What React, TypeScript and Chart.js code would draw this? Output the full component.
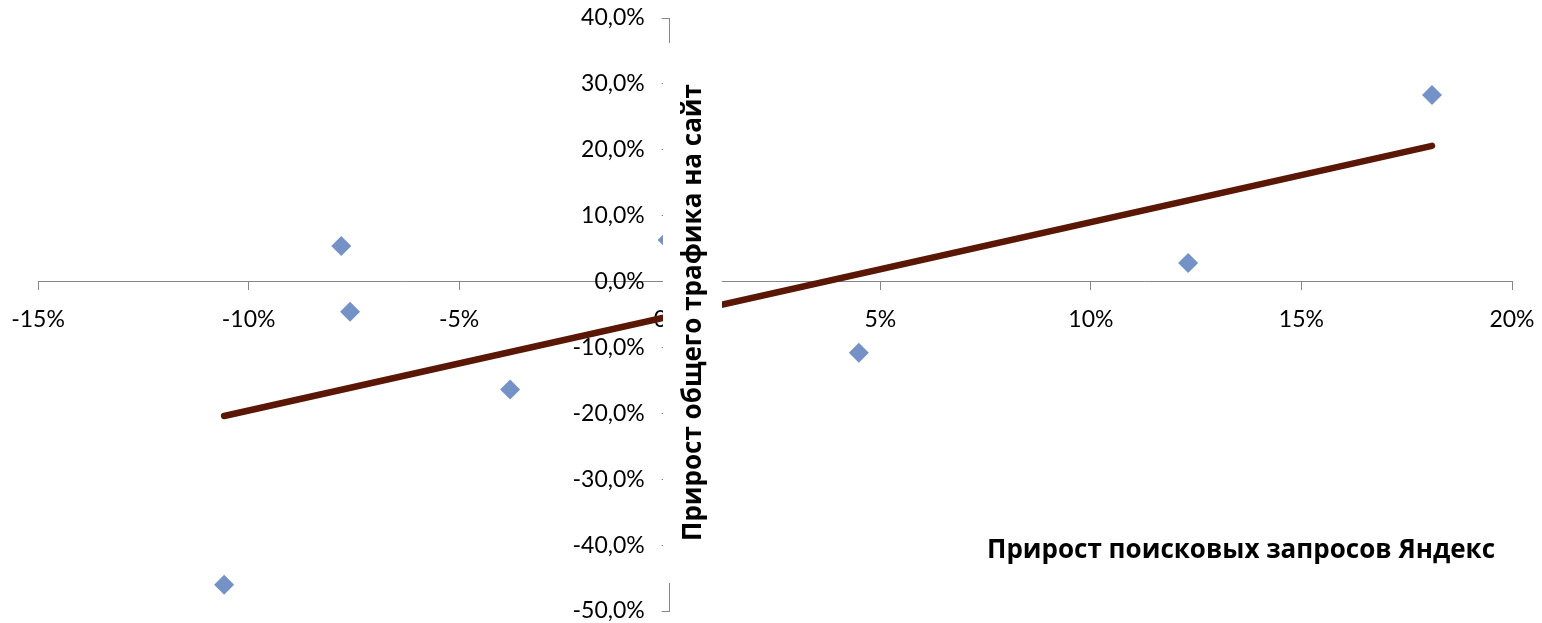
import React, { useEffect, useRef } from 'react';
import { Chart, registerables } from 'chart.js';

Chart.register(...registerables);

// Growth of Yandex search queries (%), x
const xValues = [-10.58, -7.8, -7.59, -3.79, -0.05, 4.49, 12.31, 18.1];
// Growth of total site traffic (%), y
const yValues = [-46.0, 5.4, -4.6, -16.4, 6.3, -10.8, 2.8, 28.3];
// Linear trend line end points
const trendX = [-10.58, 18.1];
const trendY = [-20.4, 20.6];

const xTickValues = [-15, -10, -5, 0, 5, 10, 15, 20];
const yTickValues = [-50, -40, -30, -20, -10, 0, 10, 20, 30, 40];

const xTitle = 'Прирост поисковых запросов Яндекс';
const yTitle = 'Прирост общего трафика на сайт';

const W = 1542;
const H = 623;

const titleFont = 'bold 26px "Open Sans", "Noto Sans", sans-serif';

// Moves the left y axis so that it crosses the x axis at x = 0
const crossPlugin = {
  id: 'crossAxes',
  afterLayout(chart: any) {
    const ys = chart.scales.y;
    const px = chart.scales.x.getPixelForValue(0);
    ys.left = 0;
    ys.right = px;
    ys._gridLineItems = null;
    ys._labelItems = null;
  },
};

const titlePlugin = {
  id: 'axisTitles',
  afterDraw(chart: any) {
    const ctx = chart.ctx as CanvasRenderingContext2D;
    ctx.save();
    // Y title with white box over the axis
    ctx.fillStyle = '#ffffff';
    ctx.fillRect(663, 43, 59, 540);
    ctx.translate(694, 312.5);
    ctx.rotate(-Math.PI / 2);
    ctx.fillStyle = '#000000';
    ctx.font = titleFont;
    ctx.textAlign = 'center';
    ctx.textBaseline = 'middle';
    ctx.fillText(yTitle, 0, 0);
    ctx.restore();

    ctx.save();
    ctx.fillStyle = '#000000';
    ctx.font = titleFont;
    ctx.textAlign = 'center';
    ctx.textBaseline = 'alphabetic';
    ctx.fillText(xTitle, 1241, 558);
    ctx.restore();
  },
};

export default function App() {
  const ref = useRef<HTMLCanvasElement | null>(null);

  useEffect(() => {
    if (!ref.current) return;
    const points = xValues.map((x, i) => ({ x, y: yValues[i] }));
    const trend = trendX.map((x, i) => ({ x, y: trendY[i] }));
    const tickFont = { family: 'Lato, "Open Sans", sans-serif', size: 23, lineHeight: 1 };
    const zeroPad = (s: any) => {
      s.paddingTop = 0;
      s.paddingBottom = 0;
      s.paddingLeft = 0;
      s.paddingRight = 0;
    };
    const chart = new Chart(ref.current, {
      type: 'scatter',
      data: {
        datasets: [
          {
            label: 'points',
            data: points,
            pointStyle: 'rectRot',
            pointRadius: 10,
            pointHoverRadius: 10,
            backgroundColor: '#7492C6',
            borderColor: '#7492C6',
            borderWidth: 0,
          },
          {
            label: 'trend',
            data: trend,
            showLine: true,
            borderColor: '#5B1706',
            borderWidth: 6.5,
            borderCapStyle: 'round',
            pointRadius: 0,
            pointHoverRadius: 0,
          } as any,
        ],
      },
      options: {
        animation: false,
        responsive: false,
        devicePixelRatio: 1,
        layout: { padding: { left: 38, right: 30, top: 18, bottom: 12 } },
        plugins: {
          legend: { display: false },
          tooltip: { enabled: false },
          title: { display: false },
        },
        scales: {
          x: {
            type: 'linear',
            min: -15,
            max: 20,
            position: { y: 0 } as any,
            afterBuildTicks: (s: any) => {
              s.ticks = xTickValues.map((v) => ({ value: v }));
            },
            afterFit: (s: any) => {
              s.height = 0;
              zeroPad(s);
            },
            grid: {
              drawOnChartArea: false,
              drawTicks: true,
              tickLength: 8,
              color: '#868686',
              lineWidth: 1,
            },
            border: { display: true, color: '#868686', width: 1 },
            ticks: {
              padding: 19,
              color: '#000000',
              font: tickFont,
              maxRotation: 0,
              autoSkip: false,
              callback: (v: any) => `${v}%`,
            },
          },
          y: {
            type: 'linear',
            min: -50,
            max: 40,
            position: 'left',
            afterBuildTicks: (s: any) => {
              s.ticks = yTickValues.map((v) => ({ value: v }));
            },
            afterFit: (s: any) => {
              s.width = 0;
              zeroPad(s);
            },
            grid: {
              drawOnChartArea: false,
              drawTicks: true,
              tickLength: 8,
              color: '#868686',
              lineWidth: 1,
            },
            border: { display: true, color: '#868686', width: 1 },
            ticks: {
              padding: 17,
              color: '#000000',
              font: tickFont,
              autoSkip: false,
              crossAlign: 'near',
              callback: (v: any) => `${Number(v).toFixed(1).replace('.', ',')}%`,
            },
          },
        },
      },
      plugins: [crossPlugin, titlePlugin],
    });
    return () => chart.destroy();
  }, []);

  return (
    <div style={{ position: 'fixed', left: 0, top: 0, width: W, height: H, background: '#fff' }}>
      <canvas ref={ref} width={W} height={H} style={{ width: W, height: H, display: 'block' }} />
    </div>
  );
}
